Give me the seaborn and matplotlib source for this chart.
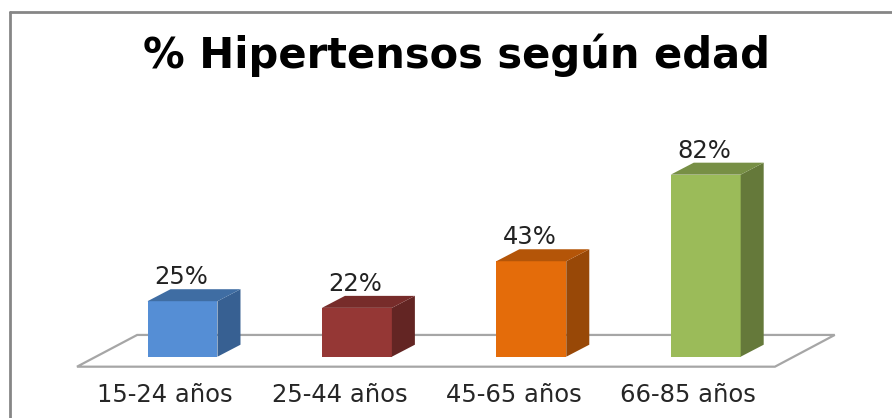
import matplotlib
matplotlib.use('Agg')
import matplotlib.pyplot as plt
import seaborn as sns
import pandas as pd
from matplotlib.patches import Polygon

grupos = ['15-24 años', '25-44 años', '45-65 años', '66-85 años']
valores = [25, 22, 43, 82]
etiquetas = ['25%', '22%', '43%', '82%']
colores = ['#558ed5', '#953735', '#e46c0a', '#9bbb59']
colores_lado = ['#376092', '#632523', '#984807', '#65793a']
colores_top = ['#3f6da3', '#772c2a', '#b45508', '#778f45']
titulo = '% Hipertensos según edad'

W, H = 892, 418

sns.set_theme(style='white')
plt.rcParams['font.family'] = ['DejaVu Sans']

fig = plt.figure(figsize=(W / 100, H / 100), dpi=100)

# axes placed so 0% sits on the front of the bars and 1% = 2.22 px
ax = fig.add_axes([95.3 / W, 1 - 356.7 / H, 697.6 / W, 222 / H])
df = pd.DataFrame({'grupo': grupos, 'valor': valores})
sns.barplot(data=df, x='grupo', y='valor', hue='grupo', palette=colores, legend=False,
            width=0.401, saturation=1, ax=ax, zorder=3)
ax.set_xlim(-0.5, 3.5)
ax.set_ylim(0, 100)
ax.axis('off')

dx = 0.132
dy = 5.4
barras = list(ax.patches)

# floor
piso = Polygon([(-0.605, -4.5), (-0.26, 9.8), (3.74, 9.8), (3.397, -4.5)], closed=True,
               facecolor='white', edgecolor='#a6a6a6', linewidth=1.6, clip_on=False, zorder=1)
ax.add_patch(piso)

# 3d faces, built from the seaborn bars
for i, bar in enumerate(barras):
    x0 = bar.get_x()
    x1 = x0 + bar.get_width()
    v = bar.get_height()
    bar.set_linewidth(0)
    ax.add_patch(Polygon([(x1, 0), (x1 + dx, dy), (x1 + dx, v + dy), (x1, v)], closed=True,
                         facecolor=colores_lado[i], edgecolor='none', clip_on=False, zorder=3))
    ax.add_patch(Polygon([(x0, v), (x0 + dx, v + dy), (x1 + dx, v + dy), (x1, v)], closed=True,
                         facecolor=colores_top[i], edgecolor='none', clip_on=False, zorder=3))
    ax.text(x0 + bar.get_width() / 2 - 0.01, v + dy + 2.3, etiquetas[i], ha='center', va='baseline',
            fontsize=17.5, color='#222222', zorder=4)
    ax.text(i - 0.1, -20.6, grupos[i], ha='center', va='baseline', fontsize=17.5,
            color='#262626', clip_on=False)

fig.text(456 / W, 1 - 68 / H, titulo, ha='center', va='baseline', fontsize=30, fontweight='bold', color='black')

# chart frame: only top and left edges show
frame = [((10, 418), (10, 12.3)), ((10, 12.3), (892, 12.3))]
for (xa, ya), (xb, yb) in frame:
    fig.add_artist(plt.Line2D([xa / W, xb / W], [1 - ya / H, 1 - yb / H], color='#868686', linewidth=2))

fig.savefig('out.png', dpi=100)
